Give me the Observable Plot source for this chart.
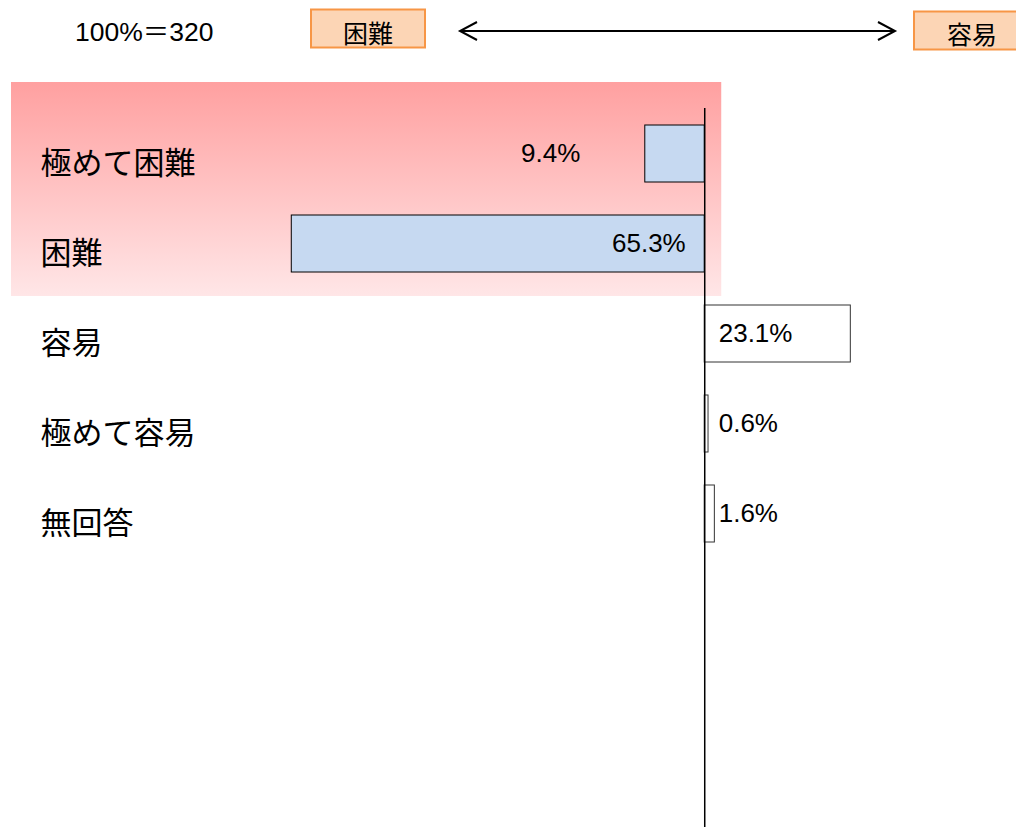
<!DOCTYPE html>
<html><head><meta charset="utf-8">
<script src="https://cdn.jsdelivr.net/npm/d3@7"></script>
<script src="https://cdn.jsdelivr.net/npm/@observablehq/plot@0.6"></script>
<style>
body{margin:0;background:#fff;}
#wrap{width:1016px;height:827px;overflow:hidden;position:relative;}
svg{display:block;}
</style></head><body><div id="wrap"></div>
<script>
// ---- data ----
const categories = ["極めて困難", "困難", "容易", "極めて容易", "無回答"];
const values = [9.4, 65.3, 23.1, 0.6, 1.6];
const sides = ["困難", "困難", "容易", "容易", "容易"];
const directionLabels = ["困難", "容易"];
const totalN = 320;

const data = categories.map((c, i) => ({
  category: c,
  value: values[i],
  side: sides[i],
  signed: sides[i] === directionLabels[0] ? -values[i] : values[i],
  label: values[i].toFixed(1) + "%",
  i
}));

const wrap = d3.select("#wrap");
const numFont = "'Liberation Sans', Arial, 'Noto Sans CJK JP', sans-serif";
const jpFont = "'Noto Sans CJK JP', sans-serif";

// ---- header (legend-like) ----
const header = wrap.append("svg").attr("width", 1016).attr("height", 70);
header.append("text")
  .attr("x", 75).attr("y", 32).attr("dominant-baseline", "central")
  .attr("font-family", numFont).attr("font-size", 26.5).attr("fill", "#000")
  .text(`100%＝${totalN}`);

const boxes = [
  {label: directionLabels[0], x: 311, y: 9.5, w: 114, tx: 368, ty: 32},
  {label: directionLabels[1], x: 914, y: 11.5, w: 120, tx: 972, ty: 33}
];
boxes.forEach(b => {
  header.append("rect").attr("x", b.x).attr("y", b.y).attr("width", b.w).attr("height", 38)
    .attr("fill", "#FCD5B5").attr("stroke", "#F79646").attr("stroke-width", 2);
  header.append("text").attr("x", b.tx).attr("y", b.ty)
    .attr("text-anchor", "middle").attr("dominant-baseline", "central")
    .attr("font-family", jpFont).attr("font-size", 25).attr("fill", "#000").text(b.label);
});
header.append("line").attr("x1", 460).attr("x2", 895).attr("y1", 31).attr("y2", 31)
  .attr("stroke", "#000").attr("stroke-width", 2);
header.append("path").attr("d", "M477,22 L460,31 L477,40").attr("fill", "none")
  .attr("stroke", "#000").attr("stroke-width", 2);
header.append("path").attr("d", "M878,22 L895,31 L878,40").attr("fill", "none")
  .attr("stroke", "#000").attr("stroke-width", 2);

// ---- chart ----
const textBase = {y: "category", text: "label", fontSize: 26, fontFamily: numFont, fill: "#000"};
const plot = Plot.plot({
  width: 1016,
  height: 757,
  marginTop: 38,
  marginBottom: 0,
  marginLeft: 0,
  marginRight: 0,
  style: {background: "transparent", overflow: "visible"},
  x: {domain: [-111.36, 49.3], axis: null},
  y: {domain: categories, range: [20.5, 506.5], padding: 0.37, axis: null},
  marks: [
    Plot.barX(data.filter(d => d.side === directionLabels[0]), {
      y: "category", x: "signed", fill: "#C6D9F1", stroke: "#000", strokeWidth: 1
    }),
    Plot.barX(data.filter(d => d.side === directionLabels[1]), {
      y: "category", x: "signed", fill: "#fff", stroke: "#333", strokeWidth: 1
    }),
    Plot.ruleX([0], {stroke: "#000", strokeWidth: 1.5}),
    Plot.text(data, {
      y: "category", text: "category", frameAnchor: "left", textAnchor: "start",
      dx: 40, dy: 10, fontSize: 31, fontFamily: jpFont, fill: "#000"
    }),
    Plot.text(data.filter(d => d.i === 0), {...textBase, x: "signed", textAnchor: "end", dx: -65}),
    Plot.text(data.filter(d => d.i === 1), {...textBase, x: d => 0, textAnchor: "end", dx: -19}),
    Plot.text(data.filter(d => d.side === directionLabels[1]), {...textBase, x: d => 0, textAnchor: "start", dx: 14})
  ]
});

// gradient highlight behind the "difficult" rows
const xs = plot.scale("x"), ys = plot.scale("y");
const svg = d3.select(plot);
const defs = svg.insert("defs", ":first-child");
const grad = defs.append("linearGradient").attr("id", "pinkGrad")
  .attr("x1", 0).attr("y1", 0).attr("x2", 0).attr("y2", 1);
grad.append("stop").attr("offset", "0%").attr("stop-color", "#FFA0A0");
grad.append("stop").attr("offset", "100%").attr("stop-color", "#FFE6E7");
const top0 = ys.apply(categories[0]) - 43;
const bot1 = ys.apply(categories[1]) + ys.bandwidth + 24;
svg.insert("rect", "defs + *")
  .attr("x", 11).attr("width", xs.apply(0) + 17 - 11)
  .attr("y", top0).attr("height", bot1 - top0)
  .attr("fill", "url(#pinkGrad)");

wrap.node().appendChild(plot);
</script></body></html>
